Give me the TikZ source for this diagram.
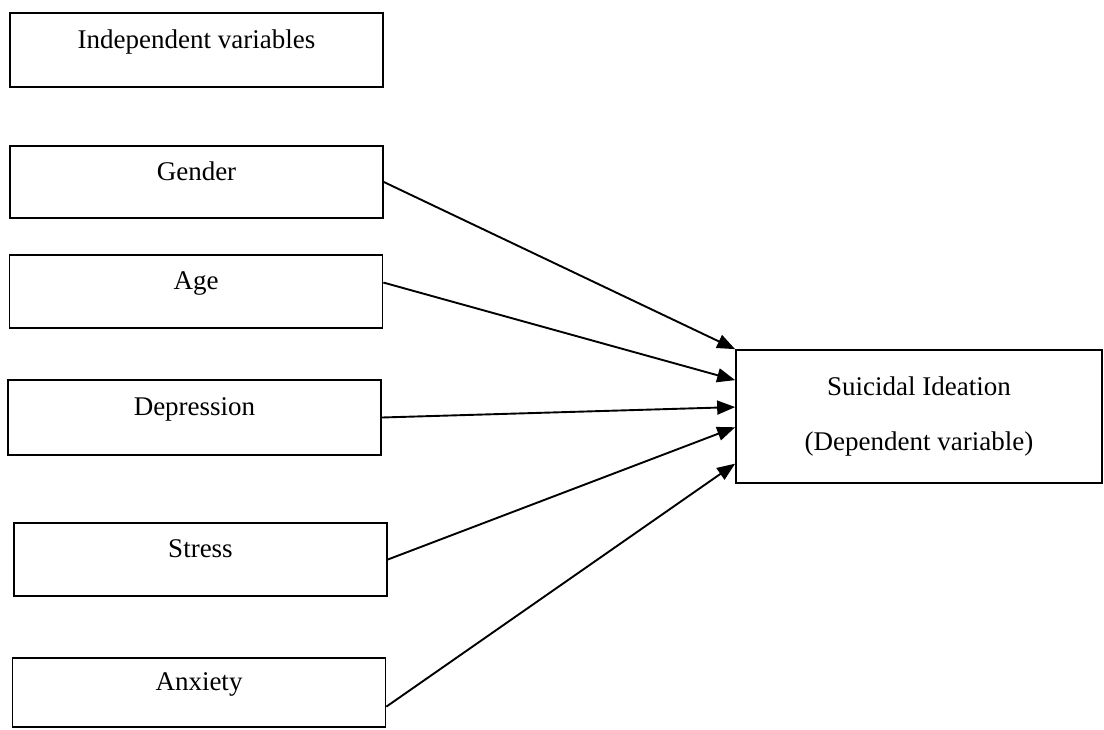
\documentclass[tikz,border=0pt]{standalone}
\usepackage{fontspec}
\setmainfont{Liberation Serif}
\usetikzlibrary{arrows.meta,calc}

\begin{document}
\begin{tikzpicture}[x=1pt, y=-1pt,
        var_box/.style={draw, line width=1.7pt, minimum width=373pt, inner sep=0pt, font=\fontsize{27}{30}\selectfont, text height=20pt, text depth=24pt},
        dep_box/.style={draw, line width=1.7pt, minimum width=366pt, minimum height=133pt, align=center, font=\fontsize{27}{55}\selectfont},
        link/.style={line width=1.9pt, -{Triangle[length=18pt, width=14pt]}}
    ]
    \useasboundingbox (0,0) rectangle (1104,729);

    % Independent variables
    \node[var_box, minimum height=74pt] (indep) at (196.5,50) {Independent variables};
    \node[var_box, minimum height=72pt] (gender) at (196.5,182) {Gender};
    \node[var_box, minimum height=73pt] (age) at (196,291.5) {Age};
    \node[var_box, minimum height=75pt] (depression) at (194.5,417.5) {Depression};
    \node[var_box, minimum height=73pt] (stress) at (200.5,559.5) {Stress};
    \node[var_box, minimum height=69pt] (anxiety) at (199,692.5) {Anxiety};

    % Dependent variable
    \node[dep_box] (ideation) at (919,416.5) {Suicidal Ideation\\(Dependent variable)};

    % Arrows
    \draw[link] (gender.east) -- (ideation.north west);
    \draw[link] ($(age.north east)!0.38!(age.south east)$) -- ($(ideation.north west)!0.23!(ideation.south west)$);
    \draw[link] (depression.east) -- ($(ideation.north west)!0.43!(ideation.south west)$);
    \draw[link] (stress.east) -- ($(ideation.north west)!0.58!(ideation.south west)$);
    \draw[link] ($(anxiety.north east)!0.7!(anxiety.south east)$) -- ($(ideation.north west)!0.85!(ideation.south west)$);
\end{tikzpicture}
\end{document}
